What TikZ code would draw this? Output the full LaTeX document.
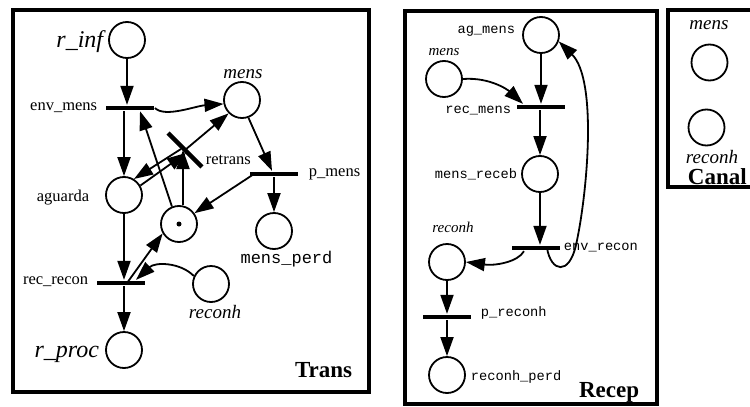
\documentclass[tikz,border=0pt]{standalone}
\usepackage{fontspec}
\setmainfont{Liberation Serif}
\setmonofont{Liberation Mono}
\usetikzlibrary{arrows.meta}

\begin{document}
\begin{tikzpicture}[x=1pt, y=-1pt, line width=1.8pt,
    place/.style={circle, draw, minimum size=36pt, inner sep=0pt},
    bar/.style={rectangle, fill=black, minimum width=48pt, minimum height=4.5pt, inner sep=0pt},
    flow/.style={-{Triangle[length=19pt, width=13pt]}},
    box/.style={draw, line width=4pt},
    biglbl/.style={inner sep=0pt, font=\fontsize{24}{24}\selectfont\itshape},
    itlbl/.style={inner sep=0pt, font=\fontsize{19}{19}\selectfont\itshape},
    smitlbl/.style={inner sep=0pt, font=\fontsize{15}{15}\selectfont\itshape},
    rmlbl/.style={inner sep=0pt, font=\fontsize{16.5}{16.5}\selectfont},
    ttlbl/.style={inner sep=0pt, font=\fontsize{17}{17}\selectfont\ttfamily},
    smttlbl/.style={inner sep=0pt, font=\fontsize{13.7}{13.7}\selectfont\ttfamily},
    titlelbl/.style={inner sep=0pt, font=\fontsize{23}{23}\selectfont\bfseries}]

    \path[use as bounding box, clip] (0,0) rectangle (750,407);

    % Trans
    \draw[box] (12.5,9.5) rectangle (369,391.5);
    \node[place] (rinf) at (127,40) {};
    \node[place] (mens) at (242,100) {};
    \node[place] (aguarda) at (124,195) {};
    \node[place] (pronto) at (179,224) {};
    \node[place] (mensperd) at (274,231) {};
    \node[place] (reconh) at (211,284) {};
    \node[place] (rproc) at (124,350) {};
    \fill (pronto) circle (2.5pt);
    \foreach \n/\x/\y in {envmens/130/108, pmens/274/174, recrecon/121/283} {
        \node[bar] (\n) at (\x,\y) {};
    }
    \node[bar, rotate=-45] (retrans) at (185,150) {};

    \node[biglbl, anchor=base east] (rinflbl) at (104,47) {r\_inf};
    \node[rmlbl, anchor=base east] (envmenslbl) at (98,110) {env\_mens};
    \node[itlbl, anchor=base] (menslbl) at (243,78) {mens};
    \node[rmlbl, anchor=base west] (retranslbl) at (205,164) {retrans};
    \node[rmlbl, anchor=base west] (pmenslbl) at (308,176) {p\_mens};
    \node[rmlbl, anchor=base east] (aguardalbl) at (90,201) {aguarda};
    \node[ttlbl, anchor=base] (mensperdlbl) at (286.5,263) {mens\_perd};
    \node[rmlbl, anchor=base east] (recreconlbl) at (89,284) {rec\_recon};
    \node[itlbl, anchor=base] (reconhlbl) at (215,318) {reconh};
    \node[biglbl, anchor=base east] (rproclbl) at (100,357) {r\_proc};
    \node[titlelbl, anchor=base east] (translbl) at (353,377) {Trans};

    \draw[flow] (rinf.south) -- (rinf.south |- envmens.north);
    \draw[flow] (envmens.south -| aguarda.north) -- (aguarda.north);
    \draw[flow] (envmens.east) .. controls (165,118) and (195,106) .. (mens.192);
    \draw[flow] (pronto.112) -- ([xshift=10pt]envmens.south);
    \draw[flow] ([shift={(-4,-1)}]retrans.center) -- (aguarda.58);
    \draw[flow] (aguarda.30) -- ([shift={(1,3)}]retrans.center);
    \draw[flow] (retrans.center) -- (mens.225);
    \draw[flow] ([xshift=4pt]pronto.north) -- ([xshift=4pt]pronto.north |- retrans.center);
    \draw[flow] (mens.290) -- ([xshift=-2pt]pmens.north);
    \draw[flow] (pmens.south) -- (mensperd.north);
    \draw[flow] ([xshift=-20pt]pmens.center) -- (pronto.35);
    \draw[flow] (aguarda.south) -- (aguarda.south |- recrecon.north);
    \draw[flow] ([xshift=6pt]recrecon.center) -- (pronto.210);
    \draw[flow] (reconh.155) .. controls (180,262) and (155,262) .. ([xshift=15pt]recrecon.north);
    \draw[flow] (rproc.north |- recrecon.south) -- (rproc.north);

    % Recep
    \draw[box] (405,10.5) rectangle (656.5,404);
    \node[place] (agmens) at (541,35) {};
    \node[place] (mensr) at (444,79) {};
    \node[place] (mensreceb) at (540,174) {};
    \node[place] (reconhr) at (447,262) {};
    \node[place] (reconhperd) at (447,375) {};
    \foreach \n/\x/\y in {recmens/541/107, envrecon/536/248, preconh/447/317} {
        \node[bar] (\n) at (\x,\y) {};
    }

    \node[smttlbl, anchor=base east] (agmenslbl) at (516,33) {ag\_mens};
    \node[smitlbl, anchor=base] (mensrlbl) at (444,55) {mens};
    \node[smttlbl, anchor=base east] (recmenslbl) at (512,113) {rec\_mens};
    \node[smttlbl, anchor=base east] (mensreceblbl) at (518,178) {mens\_receb};
    \node[smitlbl, anchor=base] (reconhrlbl) at (453,232) {reconh};
    \node[smttlbl, anchor=base west] (envreconlbl) at (563,250) {env\_recon};
    \node[smttlbl, anchor=base west] (preconhlbl) at (480,316) {p\_reconh};
    \node[smttlbl, anchor=base west] (reconhperdlbl) at (470,380) {reconh\_perd};
    \node[titlelbl, anchor=base east] (receplbl) at (640,397) {Recep};

    \draw[flow] (agmens.south) -- (agmens.south |- recmens.north);
    \draw[flow] (mensr.east) .. controls (490,77) and (508,90) .. ([xshift=-18pt]recmens.north);
    \draw[flow] (recmens.south -| mensreceb.north) -- (mensreceb.north);
    \draw[flow] (mensreceb.south) -- (mensreceb.south |- envrecon.north);
    \draw[flow] ([xshift=-12pt]envrecon.south) .. controls (518,262) and (495,266) .. (reconhr.east);
    \draw[flow] ([xshift=11pt]envrecon.center) .. controls (551,272) and (569,276) .. (576,245)
        .. controls (587,196) and (598,80) .. (agmens.340);
    \draw[flow] (reconhr.south) -- (preconh.north);
    \draw[flow] (preconh.south) -- (reconhperd.north);

    % Canal
    \draw[box] (668,10) rectangle (800,187);
    \node[place] (canmens) at (709.5,62.5) {};
    \node[place] (canreconh) at (706.5,127.5) {};
    \node[itlbl, anchor=base] (canmenslbl) at (709,29) {mens};
    \node[itlbl, anchor=base] (canreconhlbl) at (712,163) {reconh};
    \node[titlelbl, anchor=base west] (canallbl) at (687,184) {Canal};
\end{tikzpicture}
\end{document}
